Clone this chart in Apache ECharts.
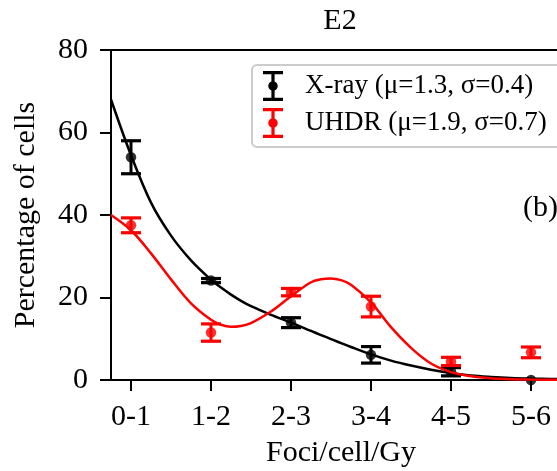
<!DOCTYPE html>
<html><head><meta charset="utf-8">
<script src="https://cdn.jsdelivr.net/npm/echarts@6/dist/echarts.min.js"></script>
<style>html,body{margin:0;padding:0;background:#fff}#c{width:557px;height:471px}</style>
</head><body><div id="c"></div>
<script>
// ---- data ----
const categories = ['0-1', '1-2', '2-3', '3-4', '4-5', '5-6'];
const seriesNames = ['X-ray (\u03bc=1.3, \u03c3=0.4)', 'UHDR (\u03bc=1.9, \u03c3=0.7)'];
const xrayMean = [54.0, 24.1, 13.9, 6.1, 2.0, 0.0];
const xrayErr  = [4.0, 0.5, 1.2, 2.0, 1.0, 0.0];
const uhdrMean = [37.5, 11.5, 21.3, 17.8, 4.5, 6.7];
const uhdrErr  = [1.8, 2.1, 0.9, 2.5, 1.0, 1.3];
// fitted curves (x in category index units)
const fitX    = [-0.25, 0, 0.25, 0.5, 0.75, 1, 1.125, 1.25, 1.375, 1.5, 1.75, 2, 2.25, 2.375, 2.5, 2.625, 2.75, 3, 3.25, 3.5, 3.75, 4, 4.25, 4.5, 4.75, 5, 5.25, 5.5];
const xrayFit = [68.0, 54.5, 43.0, 35.0, 29.0, 24.3, 22.4, 20.7, 19.2, 17.9, 15.8, 13.9, 11.9, 10.9, 9.9, 8.95, 8.0, 6.2, 4.7, 3.5, 2.5, 1.7, 1.1, 0.75, 0.5, 0.35, 0.25, 0.2];
const uhdrFit = [40.0, 36.3, 30.7, 24.4, 18.6, 14.6, 13.4, 12.9, 13.1, 13.8, 16.6, 20.3, 23.7, 24.4, 24.6, 24.2, 23.1, 18.8, 12.8, 7.8, 4.0, 1.9, 0.9, 0.4, 0.2, 0.1, 0.05, 0.0];
const yTicks = [0, 20, 40, 60, 80];
const titleText = 'E2';
const panelText = '(b)';
const xName = 'Foci/cell/Gy';
const yName = 'Percentage of cells';

// ---- styling ----
const FONT = 'Liberation Serif';
const colors = ['#000000', '#ff0000'];
const iconPath = 'path://M0 0H20V3.2H11.6V10.5A4.8 4.8 0 0 1 11.6 19.5V26.8H20V30H0V26.8H8.4V19.5A4.8 4.8 0 0 1 8.4 10.5V3.2H0Z';

function pts(ys) { return ys.map((v, i) => [i, v]); }
function errData(m, e) { return m.map((v, i) => [i, v - e[i], v + e[i]]); }
function fitData(ys) { return fitX.map((x, i) => [x, ys[i]]); }
function errRender(color) {
  return function (params, api) {
    const x = api.value(0), lo = api.value(1), hi = api.value(2);
    const a = api.coord([x, lo]), b = api.coord([x, hi]);
    const hw = 10;
    return { type: 'group', children: [
      { type: 'line', shape: { x1: a[0], y1: a[1], x2: b[0], y2: b[1] }, style: { stroke: color, lineWidth: 3 } },
      { type: 'line', shape: { x1: a[0] - hw, y1: a[1], x2: a[0] + hw, y2: a[1] }, style: { stroke: color, lineWidth: 3.2 } },
      { type: 'line', shape: { x1: b[0] - hw, y1: b[1], x2: b[0] + hw, y2: b[1] }, style: { stroke: color, lineWidth: 3.2 } }
    ] };
  };
}

const means = [xrayMean, uhdrMean], errs = [xrayErr, uhdrErr], fits = [xrayFit, uhdrFit];
const series = [];
for (let k = 0; k < 2; k++) {
  series.push({ type: 'custom', name: seriesNames[k], renderItem: errRender(colors[k]), data: errData(means[k], errs[k]),
    encode: { x: 0, y: [1, 2] }, itemStyle: { color: colors[k] }, clip: true, z: 2 + k * 3 });
  series.push({ type: 'scatter', name: seriesNames[k], data: pts(means[k]), symbol: 'circle', symbolSize: 10.5,
    itemStyle: { color: colors[k] }, z: 3 + k * 3 });
  series.push({ type: 'line', name: seriesNames[k] + ' fit', data: fitData(fits[k]), smooth: 0.35, showSymbol: false,
    lineStyle: { color: colors[k], width: 2.5 }, itemStyle: { color: colors[k] }, z: 4 + k * 3 });
}

const chart = echarts.init(document.getElementById('c'), null, { renderer: 'canvas' });
chart.setOption({
  animation: false,
  backgroundColor: '#ffffff',
  grid: { left: 111, right: -14, top: 50, bottom: 91, show: true, borderColor: '#000', borderWidth: 2,
          outerBoundsMode: 'none', containLabel: false },
  xAxis: {
    type: 'value', min: -0.25, max: 5.5,
    name: xName, nameLocation: 'middle', nameGap: 58,
    nameTextStyle: { fontFamily: FONT, fontSize: 30, color: '#000' },
    axisLine: { show: true, onZero: false, lineStyle: { color: '#000', width: 2 } },
    axisTick: { show: true, length: 11, lineStyle: { color: '#000', width: 2 }, customValues: categories.map((c, i) => i) },
    axisLabel: { fontFamily: FONT, fontSize: 30, color: '#000', margin: 22,
                 customValues: categories.map((c, i) => i), formatter: v => categories[Math.round(v)] },
    splitLine: { show: false }
  },
  yAxis: {
    type: 'value', min: yTicks[0], max: yTicks[yTicks.length - 1], interval: yTicks[1] - yTicks[0],
    name: yName, nameLocation: 'middle', nameGap: 70, nameRotate: 90,
    nameTextStyle: { fontFamily: FONT, fontSize: 30, color: '#000' },
    axisLine: { show: true, onZero: false, lineStyle: { color: '#000', width: 2 } },
    axisTick: { show: true, length: 11, lineStyle: { color: '#000', width: 2 } },
    axisLabel: { fontFamily: FONT, fontSize: 30, color: '#000', margin: 23 },
    splitLine: { show: false }
  },
  legend: {
    orient: 'vertical', left: 252, top: 65,
    padding: [6, 23, 9, 11], itemGap: 7,
    itemWidth: 20, itemHeight: 30,
    borderColor: '#cccccc', borderWidth: 2, borderRadius: 5, backgroundColor: 'rgba(255,255,255,0.85)',
    textStyle: { fontFamily: FONT, fontSize: 27, color: '#000', padding: [0, 0, 0, 17] },
    data: seriesNames.map((n, k) => ({ name: n, icon: iconPath, itemStyle: { color: colors[k] } })),
    selectedMode: false, z: 10
  },
  graphic: [
    { type: 'text', x: 340, y: 21, style: { text: titleText, font: '30px "' + FONT + '"', fill: '#000', textAlign: 'center', textVerticalAlign: 'middle' } },
    { type: 'text', x: 523, y: 208, style: { text: panelText, font: '30px "' + FONT + '"', fill: '#000', textAlign: 'left', textVerticalAlign: 'middle' } }
  ],
  series: series
});
</script></body></html>
